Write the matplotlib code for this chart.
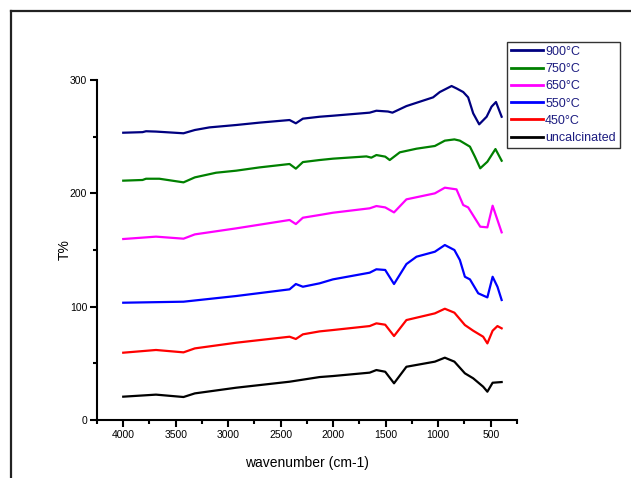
import matplotlib
matplotlib.use('Agg')
import matplotlib.pyplot as plt
from matplotlib.lines import Line2D
from matplotlib.ticker import MultipleLocator

plt.rcParams['font.family'] = ['Liberation Sans', 'DejaVu Sans']

# FTIR spectra (stacked)
wn_900 = [4000, 3816, 3783, 3688, 3426, 3318, 3179, 2925, 2702, 2416, 2356, 2289, 2130, 2003,
          1653, 1589, 1478, 1436, 1303, 1049, 985, 873, 826, 762, 715, 667, 610, 539, 492, 450, 396]
t_900 = [253.5, 254, 254.8, 254.5, 253, 255.9, 258.2, 260.3, 262.4, 264.7, 261.8, 265.9, 267.6, 268.5,
         271.2, 272.9, 272.2, 271.2, 277, 284.7, 289.4, 294.7, 292.6, 289.4, 284.7, 270.6, 260.9, 267.6,
         276.5, 280.6, 267.6]

wn_750 = [4000, 3816, 3783, 3656, 3426, 3318, 3116, 2925, 2702, 2416, 2356, 2289, 2130, 2003,
          1684, 1637, 1589, 1505, 1462, 1366, 1207, 1032, 937, 846, 794, 698, 651, 600, 532, 455, 396]
t_750 = [211.2, 211.8, 212.9, 212.9, 209.7, 214.1, 218.2, 220, 222.9, 225.9, 221.8, 227.6, 229.4, 230.6,
         232.6, 231.5, 233.8, 232.4, 229.4, 236.2, 239.4, 241.8, 246.5, 247.6, 246.5, 241.2, 232.4, 222.1,
         227.9, 239.1, 228.8]

wn_650 = [4000, 3688, 3426, 3318, 2925, 2416, 2356, 2289, 2130, 2003, 1653, 1589, 1505, 1421,
          1303, 1032, 937, 826, 762, 715, 600, 532, 482, 396]
t_650 = [159.7, 161.8, 160, 163.8, 169.1, 176.5, 172.9, 178.5, 180.9, 182.9, 186.8, 188.8, 187.6, 183.2,
         194.7, 200, 205, 203.5, 189.7, 187.6, 170.6, 170, 189.1, 165.6]

wn_550 = [4000, 3426, 2925, 2416, 2356, 2289, 2130, 2003, 1653, 1589, 1505, 1421, 1303, 1207,
          1032, 937, 846, 794, 746, 698, 619, 532, 482, 436, 396]
t_550 = [103.5, 104.4, 109.4, 115.3, 120, 117.6, 120.6, 124.1, 130, 133, 132.4, 120, 137.6, 144.1,
         148.5, 154.4, 150, 141.2, 126.4, 124.1, 111.8, 108.2, 126.4, 117.6, 105.9]

wn_450 = [4000, 3688, 3426, 3318, 2925, 2416, 2356, 2289, 2130, 2003, 1653, 1589, 1505, 1421,
          1303, 1032, 937, 846, 746, 667, 572, 532, 482, 436, 396]
t_450 = [59.4, 61.8, 59.7, 63.2, 68.2, 73.5, 71.5, 75.6, 78.2, 79.4, 82.9, 85.3, 84.1, 74.1,
         88.2, 94.1, 98.2, 94.7, 83.8, 78.8, 73.5, 67.6, 78.8, 82.9, 80.9]

wn_unc = [4000, 3688, 3426, 3318, 2925, 2416, 2130, 2003, 1653, 1589, 1505, 1421, 1303, 1032,
          937, 846, 746, 667, 572, 532, 482, 396]
t_unc = [20.6, 22.4, 20.3, 23.5, 28.5, 33.8, 37.9, 38.8, 41.8, 44.1, 42.6, 32.4, 47, 51.5,
         55, 51.5, 41.2, 36.8, 29.4, 25, 32.9, 33.5]

series = [
    ('900°C', wn_900, t_900, '#000080'),
    ('750°C', wn_750, t_750, '#008000'),
    ('650°C', wn_650, t_650, '#ff00ff'),
    ('550°C', wn_550, t_550, '#0000ff'),
    ('450°C', wn_450, t_450, '#ff0000'),
    ('uncalcinated', wn_unc, t_unc, '#000000'),
]

fig = plt.figure(figsize=(6.31, 4.78), dpi=100)
ax = fig.add_axes([0.1537, 0.1213, 0.6656, 0.7113])

for name, x, y, c in series:
    ax.plot(x, y, color=c, lw=1.6, label=name, solid_joinstyle='round')

ax.set_xlim(4250, 250)
ax.set_ylim(0, 300)
ax.xaxis.set_major_locator(MultipleLocator(500))
ax.xaxis.set_minor_locator(MultipleLocator(250))
ax.yaxis.set_major_locator(MultipleLocator(100))
ax.yaxis.set_minor_locator(MultipleLocator(50))
ax.set_xticks([4000, 3500, 3000, 2500, 2000, 1500, 1000, 500])

for s in ['top', 'right']:
    ax.spines[s].set_visible(False)
for s in ['left', 'bottom']:
    ax.spines[s].set_linewidth(1.5)
ax.tick_params(which='major', direction='out', length=5, width=1.5, labelsize=7.5, pad=2)
ax.tick_params(which='minor', direction='out', length=3, width=1.5)

ax.set_xlabel('wavenumber (cm-1)', fontsize=10, labelpad=12)
ax.set_ylabel('T%', fontsize=10, labelpad=-1)

leg = ax.legend(loc='upper left', bbox_to_anchor=(0.8035, 0.912), bbox_transform=fig.transFigure,
                fontsize=9, frameon=True, fancybox=False, framealpha=1, edgecolor='#333333',
                handlelength=2.6, handletextpad=0.15, labelspacing=0.42, borderpad=0.3,
                borderaxespad=0)
leg.get_frame().set_linewidth(1.0)
for t in leg.get_texts():
    t.set_color('#1c1c80')
for h in leg.get_lines():
    h.set_linewidth(2)

# outer frame (only top and left edges fall inside the picture)
fx, fy = 11 / 631, 1 - 11 / 478
fig.add_artist(Line2D([fx, 1.0], [fy, fy], transform=fig.transFigure, color='#222222', lw=1.6))
fig.add_artist(Line2D([fx, fx], [fy, 0.0], transform=fig.transFigure, color='#222222', lw=1.6))

fig.savefig('out.png', dpi=100)
